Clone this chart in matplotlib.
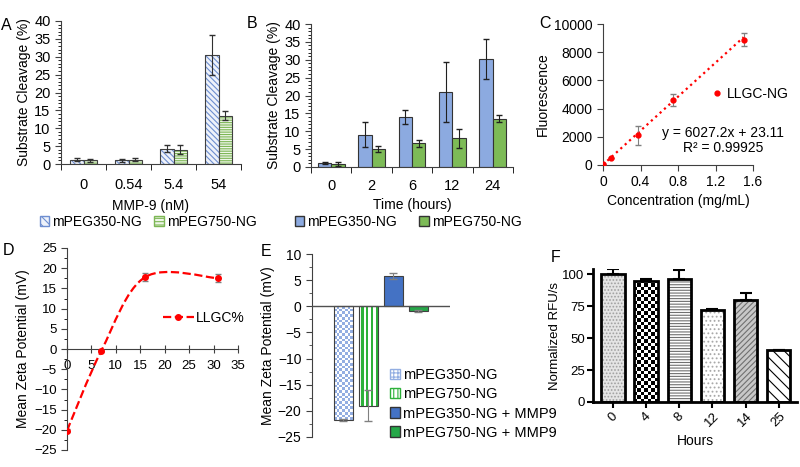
import numpy as np
import matplotlib
matplotlib.use('Agg')
import matplotlib.pyplot as plt
from matplotlib.colors import ListedColormap
from matplotlib.patches import Patch, PathPatch
from matplotlib.lines import Line2D
from matplotlib.path import Path

plt.rcParams['font.family'] = ['Liberation Sans', 'DejaVu Sans']
plt.rcParams['hatch.linewidth'] = 0.8

# A : cleavage vs MMP-9 concentration
mmp9_conc = ['0', '0.54', '5.4', '54']
a_350 = [1.2, 1.0, 4.3, 30.5]
a_350_err = [0.4, 0.5, 1.0, 5.7]
a_750 = [1.0, 1.2, 4.0, 13.5]
a_750_err = [0.5, 0.4, 1.3, 1.3]

# B : cleavage vs time
hours_b = ['0', '2', '6', '12', '24']
b_350 = [1.2, 9.0, 14.0, 21.0, 30.3]
b_350_err = [0.3, 3.5, 2.0, 8.5, 5.6]
b_750 = [0.8, 5.0, 6.6, 8.0, 13.5]
b_750_err = [0.6, 0.8, 1.0, 2.6, 1.0]

# C : calibration
conc = [0, 0.08, 0.375, 0.75, 1.5]
fluor = [50, 530, 2100, 4600, 8900]
fluor_err = [0, 0, 700, 420, 430]
slope, intercept = 6027.2, 23.11

# D : zeta vs LLGC %
llgc = [0, 7, 16, 31]
zeta_d = [-20.2, -0.5, 17.8, 17.5]
zeta_d_err = [0.3, 0.3, 1.0, 1.0]

# E : zeta of formulations
e_labels = ['mPEG350-NG', 'mPEG750-NG', 'mPEG350-NG + MMP9', 'mPEG750-NG + MMP9']
zeta_e = [-21.8, -19.0, 5.8, -0.9]
zeta_e_err = [0.2, 3.0, 0.5, 0.1]

# F : normalized RFU
hours_f = ['0', '4', '8', '12', '14', '25']
rfu = [100, 95, 96, 72, 80, 41]
rfu_err = [4, 1, 7, 0.5, 5, 0]

FS = 10

fig = plt.figure(figsize=(8, 4.67), dpi=100)


def rect(x0, x1, ytop, ybot):
    return [x0 / 800, 1 - ybot / 467, (x1 - x0) / 800, (ybot - ytop) / 467]


def pattern(ax, bar, cells, colors):
    # fill a bar with a pixel pattern (checker / stripes), clipped to the bar
    im = ax.imshow(cells, extent=(bar.get_x(), bar.get_x() + bar.get_width(),
                                  bar.get_y(), bar.get_y() + bar.get_height()),
                   cmap=ListedColormap(colors), aspect='auto',
                   interpolation='nearest', zorder=bar.get_zorder() + 0.1)
    im.set_clip_path(bar)


def bar_px(ax, bar):
    p0 = ax.transData.transform((bar.get_x(), bar.get_y()))
    p1 = ax.transData.transform((bar.get_x() + bar.get_width(), bar.get_y() + bar.get_height()))
    return abs(p1[0] - p0[0]), abs(p1[1] - p0[1])


def checker(ax, bar, colors, cell):
    wpx, hpx = bar_px(ax, bar)
    nx, ny = max(int(round(wpx / cell)), 1), max(int(round(hpx / cell)), 1)
    pattern(ax, bar, np.indices((ny, nx)).sum(0) % 2, colors)


def stripes(ax, bar, colors, cell):
    wpx, hpx = bar_px(ax, bar)
    nx = max(int(round(wpx / cell)), 1)
    pattern(ax, bar, (np.arange(nx) % 2)[None, :], colors)


def smooth_path(xs, ys):
    pts = np.column_stack([xs, ys]).astype(float)
    verts, codes = [pts[0]], [Path.MOVETO]
    n = len(pts)
    for i in range(n - 1):
        p0, p1 = pts[max(i - 1, 0)], pts[i]
        p2, p3 = pts[i + 1], pts[min(i + 2, n - 1)]
        verts += [p1 + (p2 - p0) / 6, p2 - (p3 - p1) / 6, p2]
        codes += [Path.CURVE4] * 3
    return Path(verts, codes)


def excel_axes(ax):
    for s in ['top', 'right']:
        ax.spines[s].set_visible(False)
    for s in ['left', 'bottom']:
        ax.spines[s].set_color('#404040')
        ax.spines[s].set_linewidth(0.8)
    ax.tick_params(colors='#404040', labelcolor='black', width=0.8)


# ---------------- A ----------------
axA = fig.add_axes(rect(61, 241, 21, 164))
x = np.arange(len(mmp9_conc))
w = 0.31
axA.bar(x - w / 2, a_350, w, color='#EEF2FA', edgecolor='#6E8ED0', hatch='\\\\\\\\\\\\', linewidth=0)
axA.bar(x - w / 2, a_350, w, fill=False, edgecolor='#404040', linewidth=0.8)
axA.bar(x + w / 2, a_750, w, color='#EEF6E8', edgecolor='#7DB755', hatch='-------', linewidth=0)
axA.bar(x + w / 2, a_750, w, fill=False, edgecolor='#404040', linewidth=0.8)
axA.errorbar(x - w / 2, a_350, yerr=a_350_err, fmt='none', ecolor='#303030', capsize=2.5, elinewidth=0.8)
axA.errorbar(x + w / 2, a_750, yerr=a_750_err, fmt='none', ecolor='#303030', capsize=2.5, elinewidth=0.8)
axA.set_xlim(-0.5, 3.5)
axA.set_ylim(0, 40)
axA.set_yticks(range(0, 41, 5))
axA.set_yticks(range(0, 41, 1), minor=True)
axA.set_xticks(x, mmp9_conc)
axA.set_xticks(np.arange(-0.5, 4, 1), minor=True)
excel_axes(axA)
axA.tick_params(axis='x', which='major', length=0, pad=10, labelsize=FS + 0.5)
axA.tick_params(axis='x', which='minor', length=4)
axA.tick_params(axis='y', which='major', length=4, labelsize=FS + 0.5)
axA.tick_params(axis='y', which='minor', length=2)
axA.set_xlabel('MMP-9 (nM)', fontsize=FS, labelpad=5)
axA.set_ylabel('Substrate Cleavage (%)', fontsize=FS, labelpad=2)
fig.legend(handles=[Patch(facecolor='#EEF2FA', edgecolor='#6E8ED0', hatch='\\\\\\\\'),
                    Patch(facecolor='#EEF6E8', edgecolor='#7DB755', hatch='-----')],
           labels=['mPEG350-NG', 'mPEG750-NG'], ncol=2, loc='center',
           bbox_to_anchor=(0.185, 1 - 222 / 467), frameon=False, fontsize=FS,
           handlelength=0.7, handleheight=0.7, handletextpad=0.2, columnspacing=0.9,
           borderaxespad=0, borderpad=0)

# ---------------- B ----------------
axB = fig.add_axes(rect(311, 513, 24, 167))
x = np.arange(len(hours_b))
w = 0.33
axB.bar(x - w / 2, b_350, w, color='#8CAAE0', edgecolor='#333333', linewidth=0.8)
axB.bar(x + w / 2, b_750, w, color='#7DBB57', edgecolor='#333333', linewidth=0.8)
axB.errorbar(x - w / 2, b_350, yerr=b_350_err, fmt='none', ecolor='#202020', capsize=2.5, elinewidth=0.8)
axB.errorbar(x + w / 2, b_750, yerr=b_750_err, fmt='none', ecolor='#202020', capsize=2.5, elinewidth=0.8)
axB.set_xlim(-0.5, 4.5)
axB.set_ylim(0, 40)
axB.set_yticks(range(0, 41, 5))
axB.set_yticks(range(0, 41, 1), minor=True)
axB.set_xticks(x, hours_b)
axB.set_xticks(np.arange(-0.5, 5, 1), minor=True)
excel_axes(axB)
axB.tick_params(axis='x', which='major', length=0, pad=9, labelsize=FS + 0.5)
axB.tick_params(axis='x', which='minor', length=4)
axB.tick_params(axis='y', which='major', length=4, labelsize=FS + 0.5)
axB.tick_params(axis='y', which='minor', length=2)
axB.set_xlabel('Time (hours)', fontsize=FS, labelpad=3)
axB.set_ylabel('Substrate Cleavage (%)', fontsize=FS, labelpad=2)
fig.legend(handles=[Patch(facecolor='#8CAAE0', edgecolor='#333333'),
                    Patch(facecolor='#7DBB57', edgecolor='#333333')],
           labels=['mPEG350-NG', 'mPEG750-NG'], ncol=2, loc='center',
           bbox_to_anchor=(0.51, 1 - 222 / 467), frameon=False, fontsize=FS,
           handlelength=0.7, handleheight=0.7, handletextpad=0.2, columnspacing=1.6,
           borderaxespad=0, borderpad=0)

# ---------------- C ----------------
axC = fig.add_axes(rect(603, 753, 24, 165))
xfit = np.array([0, max(conc)])
axC.plot(xfit, slope * xfit + intercept, ':', color='#FF0000', linewidth=1.6)
axC.errorbar(conc, fluor, yerr=fluor_err, fmt='o', color='#FF0000', markersize=3.5,
             ecolor='#808080', elinewidth=0.8, capsize=2.5, zorder=3)
axC.set_xlim(0, 1.6)
axC.set_ylim(0, 10000)
axC.set_xticks([0, 0.4, 0.8, 1.2, 1.6], ['0', '0.4', '0.8', '1.2', '1.6'])
axC.set_yticks(range(0, 10001, 2000))
excel_axes(axC)
axC.tick_params(length=4, labelsize=FS)
axC.set_xlabel('Concentration (mg/mL)', fontsize=FS, labelpad=3)
axC.set_ylabel('Fluorescence', fontsize=FS, labelpad=3)
fig.legend(handles=[Line2D([], [], linestyle='none', marker='o', color='#FF0000', markersize=3.5)],
           labels=['LLGC-NG'], loc='center left', bbox_to_anchor=(713 / 800, 1 - 94 / 467),
           frameon=False, fontsize=FS, handlelength=0.6, handletextpad=0.4,
           borderaxespad=0, borderpad=0)
fig.text(723 / 800, 1 - 133 / 467, 'y = 6027.2x + 23.11', ha='center', va='center', fontsize=FS)
fig.text(723 / 800, 1 - 148 / 467, 'R² = 0.99925', ha='center', va='center', fontsize=FS)

# ---------------- D ----------------
axD = fig.add_axes(rect(67, 238, 248, 450))
axD.set_xlim(0, 35)
axD.set_ylim(-25, 25)
axD.add_patch(PathPatch(smooth_path(llgc, zeta_d), fill=False, edgecolor='#FF0000',
                        linestyle='--', linewidth=1.6, zorder=2))
axD.errorbar(llgc, zeta_d, yerr=zeta_d_err, fmt='o', color='#FF0000', markersize=4,
             ecolor='#808080', elinewidth=0.8, capsize=2.5, zorder=3)
axD.spines['bottom'].set_position(('data', 0))
excel_axes(axD)
axD.set_xticks(range(0, 36, 5))
axD.set_yticks(range(-25, 26, 5))
axD.set_yticks(np.arange(-25, 25.1, 2.5), minor=True)
axD.tick_params(axis='x', direction='inout', length=6, pad=5, labelsize=FS - 0.5)
axD.tick_params(axis='y', which='major', length=4, labelsize=FS - 0.5)
axD.tick_params(axis='y', which='minor', length=2)
axD.set_ylabel('Mean Zeta Potential (mV)', fontsize=FS, labelpad=3)
axD.legend(handles=[Line2D([], [], color='#FF0000', linestyle='--', marker='o', markersize=4, linewidth=1.6)],
           labels=['LLGC%'], loc='center left', bbox_to_anchor=(163 / 800, 1 - 318 / 467),
           bbox_transform=fig.transFigure, frameon=False, fontsize=FS,
           handlelength=2.2, handletextpad=0.2, borderaxespad=0, borderpad=0)

# ---------------- E ----------------
axE = fig.add_axes(rect(312, 450, 254, 437))
axE.set_xlim(-1.24, 4.28)
axE.set_ylim(-25, 10)
xe = np.arange(len(zeta_e))
e_face = ['white', 'white', '#4472C4', '#25A848']
bars = axE.bar(xe, zeta_e, 0.76, color=e_face, linewidth=0, zorder=2)
checker(axE, bars[0], ['#93AEE2', 'white'], 2.7)
stripes(axE, bars[1], ['white', '#2DB13A'], 2.5)
axE.bar(xe, zeta_e, 0.76, fill=False, edgecolor='#404040', linewidth=0.8, zorder=3)
axE.errorbar(xe, zeta_e, yerr=zeta_e_err, fmt='none', ecolor='#808080', capsize=3, elinewidth=0.8, zorder=4)
axE.axhline(0, color='#505050', linewidth=1, zorder=5)
for s in ['top', 'right', 'bottom']:
    axE.spines[s].set_visible(False)
axE.spines['left'].set_color('#404040')
axE.spines['left'].set_linewidth(0.8)
axE.set_xticks([])
axE.set_yticks(range(-25, 11, 5))
axE.set_yticks(np.arange(-25, 10.1, 2.5), minor=True)
axE.tick_params(axis='y', which='major', length=4, labelsize=FS, colors='#404040', labelcolor='black')
axE.tick_params(axis='y', which='minor', length=2, colors='#404040')
axE.set_ylabel('Mean Zeta Potential (mV)', fontsize=FS, labelpad=2)
fig.legend(handles=[Patch(facecolor='white', edgecolor='#93AEE2', hatch='++++'),
                    Patch(facecolor='white', edgecolor='#2DB13A', hatch='||||'),
                    Patch(facecolor='#4472C4', edgecolor='#333333'),
                    Patch(facecolor='#25A848', edgecolor='#333333')],
           labels=e_labels, loc='center left', bbox_to_anchor=(390 / 800, 1 - 404 / 467),
           frameon=False, fontsize=FS + 0.5, handlelength=0.7, handleheight=0.7,
           handletextpad=0.2, labelspacing=0.35, borderaxespad=0, borderpad=0)

# ---------------- F ----------------
axF = fig.add_axes(rect(593, 797, 269, 402))
axF.set_xlim(-0.6, 5.55)
axF.set_ylim(0, 104)
xf = np.arange(len(rfu))
f_face = ['#E4E4E4', 'white', 'white', 'white', '#C8C8C8', 'white']
f_hatch = ['.....', None, '------', '....', '//////', '\\\\\\']
f_hcol = ['#A0A0A0', 'white', '#707070', '#A8A8A8', '#707070', '#000000']
fbars = axF.bar(xf, rfu, 0.7, color=f_face, linewidth=0, zorder=2)
for b, h, c in zip(fbars, f_hatch, f_hcol):
    b.set_edgecolor(c)
    if h:
        b.set_hatch(h)
checker(axF, fbars[1], ['black', 'white'], 3.5)
axF.bar(xf, rfu, 0.7, fill=False, edgecolor='black', linewidth=2, zorder=3)
axF.errorbar(xf, rfu, yerr=[np.zeros(len(rfu)), rfu_err], fmt='none', ecolor='black',
             capsize=4, elinewidth=1.5, capthick=1.5, zorder=1)
for s in ['top', 'right']:
    axF.spines[s].set_visible(False)
for s in ['left', 'bottom']:
    axF.spines[s].set_linewidth(2)
axF.set_yticks([0, 25, 50, 75, 100])
axF.set_xticks(xf, hours_f, rotation=45, ha='center')
axF.tick_params(width=1.5, length=4, labelsize=FS - 0.5, pad=2)
axF.set_xlabel('Hours', fontsize=FS, labelpad=3)
axF.set_ylabel('Normalized RFU/s', fontsize=FS - 0.5, labelpad=1)

# panel letters
for lab, px, py in [('A', 6, 25), ('B', 252, 23), ('C', 545, 24),
                    ('D', 9, 250), ('E', 266, 252), ('F', 556, 258)]:
    fig.text(px / 800, 1 - py / 467, lab, ha='center', va='center', fontsize=FS + 1.5)

fig.savefig('out.png', dpi=100)
